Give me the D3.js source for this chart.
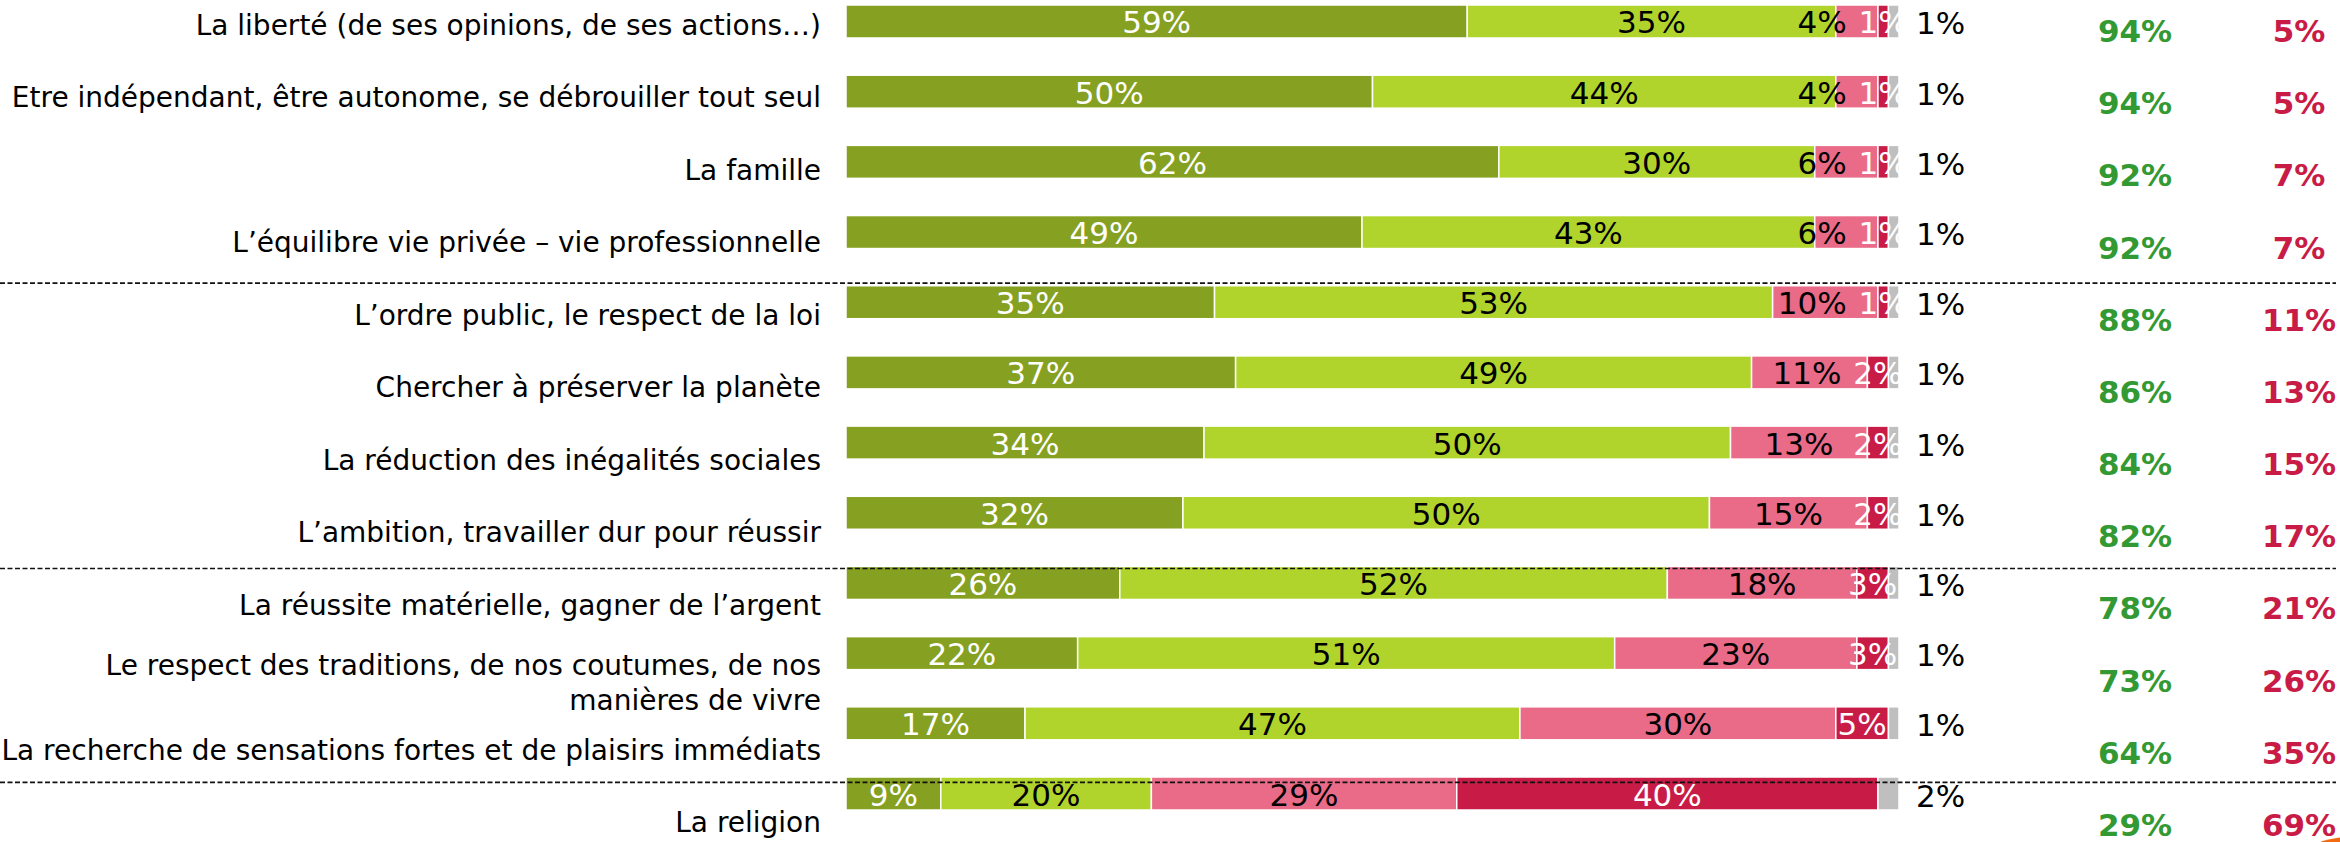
<!DOCTYPE html>
<html>
<head>
<meta charset="utf-8">
<script src="https://cdn.jsdelivr.net/npm/d3@7"></script>
<style>
  body { margin: 0; background: #fff; }
  svg text { font-family: "DejaVu Sans", Verdana, sans-serif; }
</style>
</head>
<body>
<div id="chart"></div>
<script>

const categories = [
    "La liberté (de ses opinions, de ses actions…)",
    "Etre indépendant, être autonome, se débrouiller tout seul",
    "La famille",
    "L’équilibre vie privée – vie professionnelle",
    "L’ordre public, le respect de la loi",
    "Chercher à préserver la planète",
    "La réduction des inégalités sociales",
    "L’ambition, travailler dur pour réussir",
    "La réussite matérielle, gagner de l’argent",
    "Le respect des traditions, de nos coutumes, de nos\nmanières de vivre",
    "La recherche de sensations fortes et de plaisirs immédiats",
    "La religion"
]

const tresImportant   = [59, 50, 62, 49, 35, 37, 34, 32, 26, 22, 17, 9]
const assezImportant  = [35, 44, 30, 43, 53, 49, 50, 50, 52, 51, 47, 20]
const peuImportant    = [4, 4, 6, 6, 10, 11, 13, 15, 18, 23, 30, 29]
const pasImportant    = [1, 1, 1, 1, 1, 2, 2, 2, 3, 3, 5, 40]
const nsp             = [1, 1, 1, 1, 1, 1, 1, 1, 1, 1, 1, 2]

const totalImportant    = [94, 94, 92, 92, 88, 86, 84, 82, 78, 73, 64, 29]
const totalPasImportant = [5, 5, 7, 7, 11, 13, 15, 17, 21, 26, 35, 69]

// groups end after these rows
const groupEnds = [3, 7, 10]

const keys = ['tres', 'assez', 'peu', 'pas', 'nsp']
const colors = {
    tres: '#86A121',
    assez: '#B0D42C',
    peu: '#E96B88',
    pas: '#C81C47',
    nsp: '#BFBFBF'
}
const labelColors = {
    tres: '#fff',
    assez: '#000',
    peu: '#000',
    pas: '#fff'
}

const width = 2340
const height = 842

const svg = d3.select('#chart')
    .append('svg')
    .attr('width', width)
    .attr('height', height)

const table = categories.map((c, i) => ({
    cat: c,
    tres: tresImportant[i],
    assez: assezImportant[i],
    peu: peuImportant[i],
    pas: pasImportant[i],
    nsp: nsp[i]
}))

const series = d3.stack().keys(keys)(table)

const x = d3.scaleLinear()
    .domain([0, 100])
    .range([846, 1899])

const yBar = d3.scaleBand()
    .domain(categories)
    .range([5, 810])
    .paddingInner(0.53)
    .paddingOuter(0)

const yLabel = d3.scalePoint()
    .domain(categories)
    .range([35, 832])

const yTotal = d3.scalePoint()
    .domain(categories)
    .range([42, 836])

const valueFont = 31
const labelFont = 28
const lineGap = 35

// category labels
const catLabels = svg.append('g')
    .attr('text-anchor', 'end')
    .attr('font-size', labelFont)
    .attr('fill', '#000')

catLabels.selectAll('text')
    .data(categories)
    .join('text')
    .attr('x', 821)
    .attr('y', (d) => yLabel(d))
    .each(function (d) {
        const lines = d.split('\n')
        const el = d3.select(this)
        lines.forEach((line, k) => {
            el.append('tspan')
                .attr('x', 821)
                .attr('dy', k === 0 ? (lines.length > 1 ? -12 : 0) : lineGap)
                .text(line)
        })
    })

// bars
const bars = svg.append('g')

bars.selectAll('g')
    .data(series)
    .join('g')
    .attr('fill', (s) => colors[s.key])
    .selectAll('rect')
    .data((s) => s)
    .join('rect')
    .attr('x', (d) => x(d[0]))
    .attr('y', (d) => yBar(d.data.cat))
    .attr('width', (d) => x(d[1]) - x(d[0]))
    .attr('height', yBar.bandwidth())
    .attr('stroke', '#fff')
    .attr('stroke-width', 1.5)

// values inside the bars
const valueLabels = svg.append('g')
    .attr('font-size', valueFont)
    .attr('text-anchor', 'middle')

series.filter((s) => s.key !== 'nsp').forEach((s) => {
    valueLabels.selectAll('text.v-' + s.key)
        .data(s)
        .join('text')
        .attr('class', 'v-' + s.key)
        .attr('fill', labelColors[s.key])
        .attr('x', (d) => (x(d[0]) + x(d[1])) / 2)
        .attr('y', (d) => yBar(d.data.cat) + yBar.bandwidth() / 2 + 12)
        .text((d) => d.data[s.key] + '%')
})

// move the "peu" label left when it runs into the "pas" label
const gap = 12
valueLabels.selectAll('text.v-peu').each(function (d, i) {
    const pasNode = valueLabels.selectAll('text.v-pas').nodes()[i]
    const pasLeft = +pasNode.getAttribute('x') - pasNode.getComputedTextLength() / 2
    const w = this.getComputedTextLength()
    const cx = +this.getAttribute('x')
    if (cx + w / 2 > pasLeft - gap) {
        d3.select(this).attr('x', pasLeft - gap - w / 2)
    }
})

// "nsp" values outside the bar
svg.append('g')
    .attr('font-size', valueFont)
    .selectAll('text')
    .data(series.find((s) => s.key === 'nsp'))
    .join('text')
    .attr('x', (d) => x(d[1]) + 17)
    .attr('y', (d) => yBar(d.data.cat) + yBar.bandwidth() / 2 + 13)
    .text((d) => d.data.nsp + '%')

// totals
const totals = svg.append('g')
    .attr('font-size', valueFont)
    .attr('font-weight', 'bold')
    .attr('text-anchor', 'middle')

totals.selectAll('text.ti')
    .data(categories)
    .join('text')
    .attr('class', 'ti')
    .attr('x', 2135)
    .attr('y', (d) => yTotal(d))
    .attr('fill', '#339933')
    .text((d, i) => totalImportant[i] + '%')

totals.selectAll('text.tp')
    .data(categories)
    .join('text')
    .attr('class', 'tp')
    .attr('x', 2299)
    .attr('y', (d) => yTotal(d))
    .attr('fill', '#C81C47')
    .text((d, i) => totalPasImportant[i] + '%')

// dashed separators between groups
const sepY = (i) => (yLabel(categories[i]) + yLabel(categories[i + 1]) + yBar(categories[i + 1]) * 2) / 4 - 4

svg.append('g')
    .selectAll('line')
    .data(groupEnds)
    .join('line')
    .attr('x1', 0)
    .attr('x2', 2336)
    .attr('y1', sepY)
    .attr('y2', sepY)
    .attr('stroke', '#111')
    .attr('stroke-width', 1.6)
    .attr('stroke-dasharray', '5,2.5')

// small orange corner decoration
svg.append('ellipse')
    .attr('cx', 2352)
    .attr('cy', 850)
    .attr('rx', 40)
    .attr('ry', 13)
    .attr('fill', '#F26B12')

</script>
</body>
</html>
